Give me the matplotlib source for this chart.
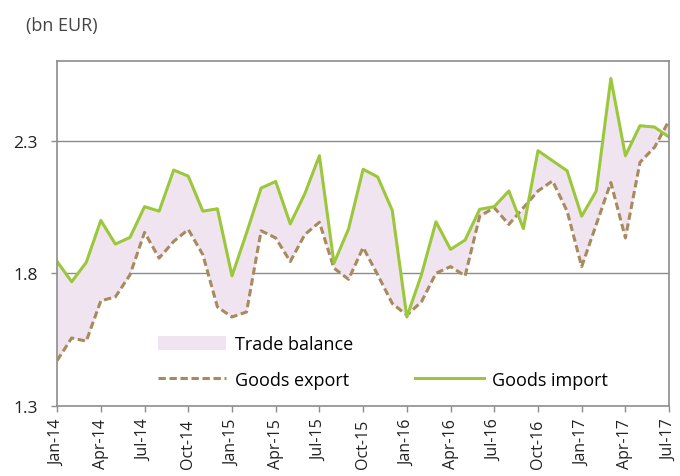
"""
Goods export vs goods import, monthly, Jan-14 to Jul-17 (bn EUR).
"""

import numpy as np
import matplotlib.pyplot as plt
from matplotlib.lines import Line2D
from matplotlib.patches import Patch

plt.rcParams['font.family'] = ['Open Sans', 'DejaVu Sans']

# Monthly values (bn EUR), Jan-14 .. Jul-17
goods_import = [1.844, 1.768, 1.841, 1.999, 1.910, 1.935, 2.051, 2.034, 2.189, 2.166,
                2.034, 2.043, 1.790, 1.952, 2.121, 2.146, 1.986, 2.100, 2.243, 1.838,
                1.967, 2.192, 2.163, 2.037, 1.635, 1.794, 1.994, 1.890, 1.925, 2.041,
                2.051, 2.110, 1.968, 2.262, 2.224, 2.186, 2.015, 2.110, 2.534, 2.243,
                2.356, 2.351, 2.313]
goods_export = [1.471, 1.556, 1.544, 1.696, 1.711, 1.794, 1.954, 1.857, 1.920, 1.965,
                1.870, 1.673, 1.635, 1.654, 1.960, 1.933, 1.844, 1.946, 1.992, 1.819,
                1.777, 1.897, 1.794, 1.686, 1.642, 1.692, 1.800, 1.825, 1.790, 2.015,
                2.047, 1.984, 2.047, 2.110, 2.148, 2.034, 1.825, 1.984, 2.142, 1.933,
                2.218, 2.275, 2.376]

tick_labels = ['Jan-14', 'Apr-14', 'Jul-14', 'Oct-14', 'Jan-15', 'Apr-15', 'Jul-15',
               'Oct-15', 'Jan-16', 'Apr-16', 'Jul-16', 'Oct-16', 'Jan-17', 'Apr-17',
               'Jul-17']
y_ticks = [1.3, 1.8, 2.3]

green = '#9BC83A'
brown = '#A88A5E'
pink = '#F0E4F0'
grey = '#8C8C8C'
dash = (2.4, 1.2)

x = np.arange(len(goods_import))

fig = plt.figure(figsize=(6.8, 4.77), dpi=100)
ax = fig.add_axes([0.084, 0.147, 0.9, 0.723])

ax.fill_between(x, goods_export, goods_import, color=pink, linewidth=0)
ax.plot(x, goods_export, color=brown, lw=2.2, dashes=dash)
ax.plot(x, goods_import, color=green, lw=2.2)

ax.set_xlim(0, len(x) - 1)
ax.set_ylim(1.3, 2.6)
ax.set_yticks(y_ticks)
ax.set_yticklabels([f'{v:.1f}' for v in y_ticks], fontsize=12.5, color='#222222')
ax.set_xticks(x[::3])
ax.set_xticklabels(tick_labels, rotation=90, fontsize=11.5, color='#222222')
ax.tick_params(axis='both', direction='out', length=4, color=grey, width=1)
ax.tick_params(axis='x', pad=5)
ax.tick_params(axis='y', pad=10)

for v in y_ticks[1:]:
    ax.axhline(v, color=grey, lw=1, zorder=0)
for s in ax.spines.values():
    s.set_color(grey)
    s.set_linewidth(1.2)

handles = [Patch(facecolor=pink, edgecolor='none'),
           Line2D([], [], color=brown, lw=2.2, dashes=dash),
           Line2D([], [], color='none'),
           Line2D([], [], color=green, lw=2.2)]
labels = ['Trade balance', 'Goods export', '', 'Goods import']
ax.legend(handles, labels, ncol=2, loc='lower left', bbox_to_anchor=(0.138, 0.003),
          frameon=False, fontsize=13, handlelength=3.8, handleheight=0.8,
          columnspacing=3.45, labelspacing=0.95, handletextpad=0.45)

fig.text(0.038, 0.935, '(bn EUR)', fontsize=13, color='#444444')

fig.savefig('out.png', dpi=100)
